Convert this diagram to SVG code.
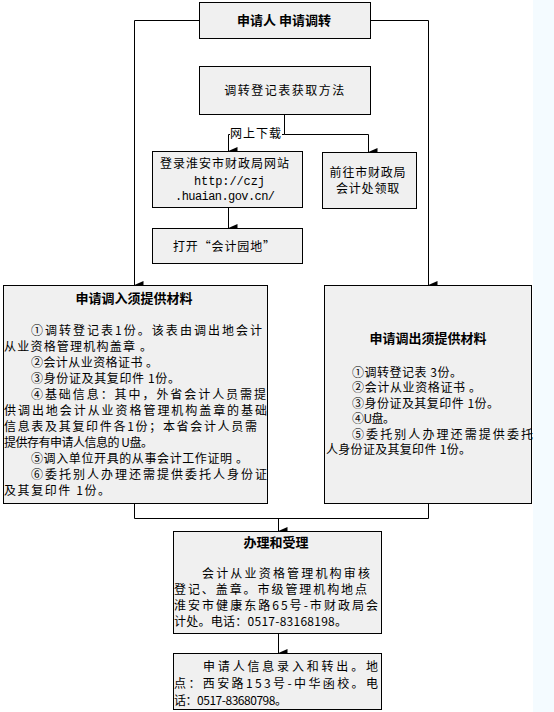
<svg xmlns="http://www.w3.org/2000/svg" width="554" height="712" viewBox="0 0 554 712">
<defs>
<marker id="arr" markerUnits="userSpaceOnUse" markerWidth="9" markerHeight="9" refX="3.5" refY="8" orient="auto-start-reverse" viewBox="0 0 7 8">
<path d="M0,0 L7,0 L3.5,8 Z" fill="#000"/>
</marker>
<style>
.box{fill:#f0f0f0;stroke:#000;stroke-width:1}
.t{font-family:"Noto Sans CJK SC","Noto Sans",sans-serif;font-size:12px;fill:#000}
.b{font-weight:bold;font-size:13px}
.m{font-family:"Liberation Mono",monospace;font-size:12px;fill:#000}
.c{text-anchor:middle}
.ln{fill:none;stroke:#000;stroke-width:1}
</style>
</defs>
<rect x="0" y="0" width="554" height="712" fill="#fff"/>
<rect x="533" y="0" width="21" height="712" fill="#f4fbff"/>

<g id="connectors">
<path class="ln" d="M199.5,20.5 H134.5 V285" marker-end="url(#arr)"/>
<path class="ln" d="M370.5,20.5 H428.5 V285" marker-end="url(#arr)"/>
<path class="ln" d="M284.5,115 V134.5 H368.5 V152" marker-end="url(#arr)"/>
<path class="ln" d="M284.5,134.5 H228.5 V151" marker-end="url(#arr)"/>
<path class="ln" d="M228.5,208 V228" marker-end="url(#arr)"/>
<path class="ln" d="M134.5,504 V518.5 H428.5 V504"/>
<path class="ln" d="M278.5,518.5 V531" marker-end="url(#arr)"/>
<path class="ln" d="M278.5,634 V653" marker-end="url(#arr)"/>
<rect x="230" y="126" width="52" height="15" fill="#fff"/>
<text class="t" x="230" y="138" textLength="51" lengthAdjust="spacing">网上下载</text>
</g>

<g id="n-apply">
<rect class="box" x="199.5" y="2.5" width="171" height="36"/>
<text class="t b c" x="284" y="25">申请人 申请调转</text>
</g>

<g id="n-method">
<rect class="box" x="199.5" y="66.5" width="171" height="48"/>
<text class="t c" x="285" y="95" letter-spacing="1.5">调转登记表获取方法</text>
</g>

<g id="n-web">
<rect class="box" x="152.5" y="151.5" width="150" height="56"/>
<text class="t" x="160" y="168" textLength="129" lengthAdjust="spacing">登录淮安市财政局网站</text>
<text class="m" x="194" y="184.5" textLength="71" lengthAdjust="spacing">http://czj</text>
<text class="m" x="175" y="200" textLength="100" lengthAdjust="spacing">.huaian.gov.cn/</text>
</g>

<g id="n-office">
<rect class="box" x="322.5" y="152.5" width="94" height="56"/>
<text class="t c" x="368" y="177" letter-spacing="0.8">前往市财政局</text>
<text class="t c" x="368" y="193" letter-spacing="0.8">会计处领取</text>
</g>

<g id="n-open">
<rect class="box" x="152.5" y="228.5" width="150" height="35"/>
<text class="t" x="173" y="251" textLength="102" lengthAdjust="spacing">打开“会计园地”</text>
</g>

<g id="n-in">
<rect class="box" x="3.5" y="285.5" width="264" height="218"/>
<text class="t b c" x="134" y="303">申请调入须提供材料</text>
<text class="t" x="31" y="334.5" textLength="231" lengthAdjust="spacing">①调转登记表1份。该表由调出地会计</text>
<text class="t" x="4" y="350.5" textLength="148" lengthAdjust="spacing">从业资格管理机构盖章 。</text>
<text class="t" x="31" y="366.5" textLength="127" lengthAdjust="spacing">②会计从业资格证书 。</text>
<text class="t" x="31" y="382.5" textLength="149" lengthAdjust="spacing">③身份证及其复印件 1份。</text>
<text class="t" x="31" y="398.5" textLength="235" lengthAdjust="spacing">④基础信息：其中，外省会计人员需提</text>
<text class="t" x="4" y="414.5" textLength="263" lengthAdjust="spacing">供调出地会计从业资格管理机构盖章的基础</text>
<text class="t" x="4" y="430.5" textLength="253" lengthAdjust="spacing">信息表及其复印件各1份；本省会计人员需</text>
<text class="t" x="4" y="446.5" textLength="149" lengthAdjust="spacing">提供存有申请人信息的 U盘。</text>
<text class="t" x="31" y="462.5" textLength="217" lengthAdjust="spacing">⑤调入单位开具的从事会计工作证明 。</text>
<text class="t" x="31" y="478.5" textLength="236" lengthAdjust="spacing">⑥委托别人办理还需提供委托人身份证</text>
<text class="t" x="4" y="494.5" textLength="106" lengthAdjust="spacing">及其复印件 1份。</text>
</g>

<g id="n-out">
<rect class="box" x="324.5" y="285.5" width="207" height="218"/>
<text class="t b c" x="428" y="343">申请调出须提供材料</text>
<text class="t" x="352" y="376.5" textLength="110" lengthAdjust="spacing">①调转登记表 3份。</text>
<text class="t" x="352" y="392" textLength="129" lengthAdjust="spacing">②会计从业资格证书 。</text>
<text class="t" x="352" y="407.5" textLength="147" lengthAdjust="spacing">③身份证及其复印件 1份。</text>
<text class="t" x="352" y="423" textLength="43" lengthAdjust="spacing">④U盘。</text>
<text class="t" x="352" y="438.5" textLength="181" lengthAdjust="spacing">⑤委托别人办理还需提供委托</text>
<text class="t" x="326" y="454" textLength="145" lengthAdjust="spacing">人身份证及其复印件 1份。</text>
</g>

<g id="n-handle">
<rect class="box" x="173.5" y="531.5" width="208" height="102"/>
<text class="t b c" x="276" y="547">办理和受理</text>
<text class="t" x="202" y="577.5" textLength="168" lengthAdjust="spacing">会计从业资格管理机构审核</text>
<text class="t" x="174" y="593.5" textLength="193" lengthAdjust="spacing">登记、盖章。市级管理机构地点</text>
<text class="t" x="174" y="609.5" textLength="204" lengthAdjust="spacing">淮安市健康东路65号-市财政局会</text>
<text class="t" x="174" y="625.5" textLength="173" lengthAdjust="spacing">计处。电话：0517-83168198。</text>
</g>

<g id="n-transfer">
<rect class="box" x="173.5" y="653.5" width="208" height="56"/>
<text class="t" x="203" y="671" textLength="175" lengthAdjust="spacing">申请人信息录入和转出。地</text>
<text class="t" x="174" y="688" textLength="204" lengthAdjust="spacing">点：西安路153号-中华函校。电</text>
<text class="t" x="174" y="705" textLength="113" lengthAdjust="spacing">话：0517-83680798。</text>
</g>
</svg>
